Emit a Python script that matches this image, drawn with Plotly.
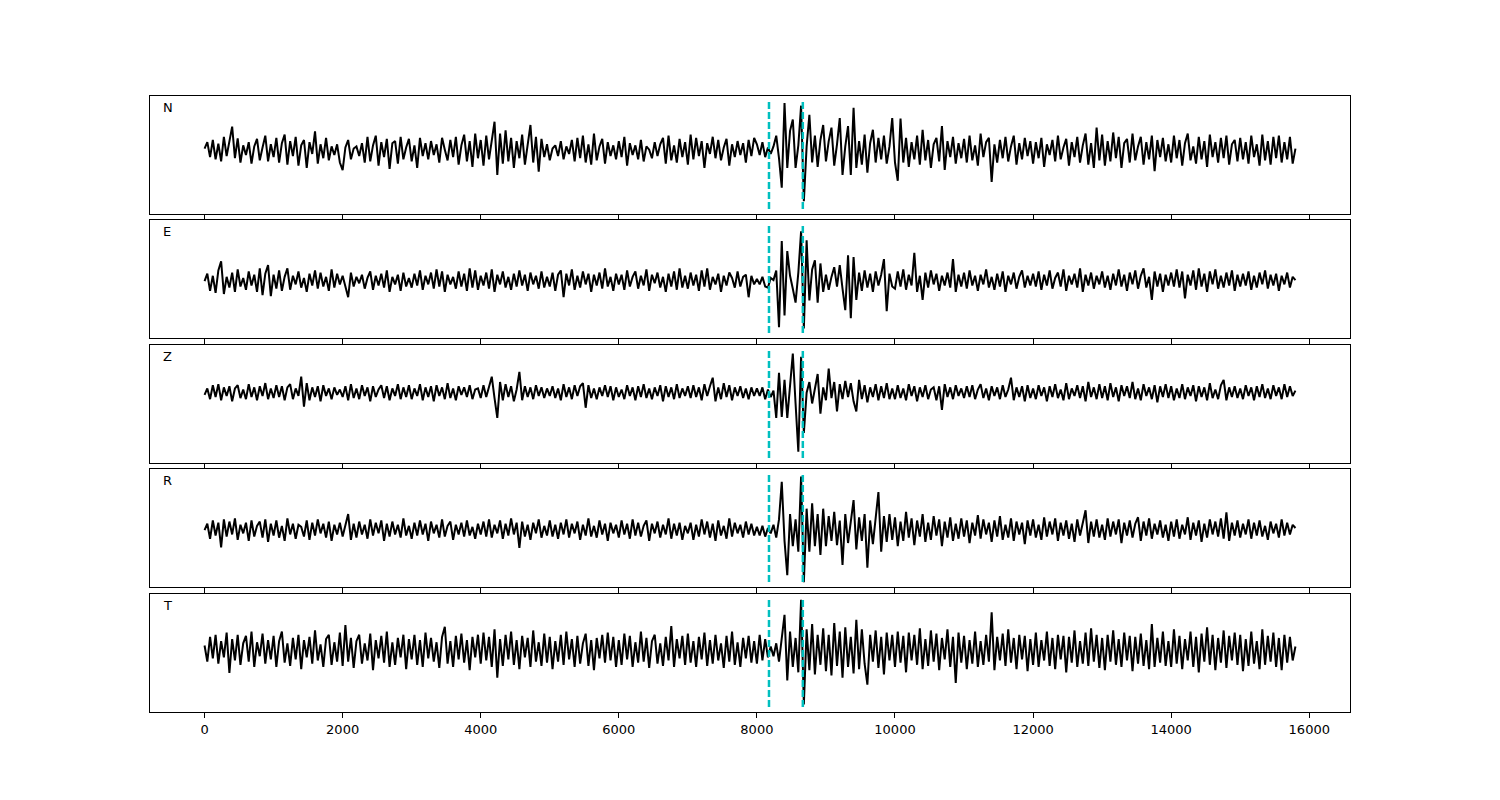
import numpy as np
import plotly.graph_objects as go

# ---- data (trace amplitudes, in % of half panel span; one row = 1000 samples-units) ----
sample_step = 40
components = ["N", "E", "Z", "R", "T"]
pick_times = [8175, 8665]
x_ticks = [0, 2000, 4000, 6000, 8000, 10000, 12000, 14000, 16000]

N_vals = [
    6, 18, -10, 22, -14, 15, -18, 28, -8, 20, 47, -12, 25, -20, 12, -6, 18, -22, 10, 24, -16, 8, 30, -18, 14,
    -10, 26, -20, 16, 32, -24, 20, -8, 28, -26, 12, 22, -30, 18, -4, 38, -22, 14, -12, 26, -16, 10, -6, 14, -20,
    -34, 8, 22, -14, 6, 10, -8, 16, -20, 28, -18, 12, 30, -26, 18, -10, 24, -32, 16, 20, -22, 28, -14, 8, 24,
    -18, 12, -30, 26, -8, 16, -14, 20, -6, 14, -20, 26, 4, -16, 22, -10, 28, -24, 12, 32, -18, 20, -28, 34, -12,
    22, -26, 30, -14, 18, 56, -43, 34, -22, 40, -18, 26, -30, 20, -12, 32, -24, 16, 50, -20, 28, -37, 24, -10, 14,
    -16, 6, 12, -8, 20, -14, 10, -4, 22, -18, 26, -12, 30, -20, 14, -24, 34, -16, 10, 24, -22, 18, -8, 12, -14,
    20, -10, 28, -26, 16, -6, 12, -14, 22, -18, 10, 4, -12, 18, -8, 14, 26, -22, 30, -16, 12, -20, 24, -10, 18,
    -24, 32, -14, 26, -8, 20, -30, 16, -4, 28, -12, 22, -16, 8, 24, -26, 14, -10, 20, -6, 16, -20, 22, -8, 26,
    14, -6, 18, -10, 8, -4, 10, 30, -12, -67, 91, -30, 39, 60, -30, 12, 86, -92, 10, 69, -20, 30, -28, 22, 50,
    -18, 20, 45, -26, 14, 63, -43, 10, 48, -43, 82, -30, 20, -24, 32, -39, 16, 41, -20, 26, -14, 30, -22, 10, 63,
    -20, -54, 62, -20, 26, -28, 18, -14, 30, -24, 41, -16, 22, -30, 14, 26, -18, 48, -34, 20, -10, 28, -22, 16, -12,
    24, -20, 30, -16, 12, -26, 34, -10, 18, 26, -56, 14, -20, 22, -12, 28, -18, 10, 30, -24, 16, -14, 26, -8, 20,
    -22, 18, -12, 26, -28, 14, -6, 22, -18, 30, -14, 8, 24, -26, 18, -10, 28, -20, 12, 34, -24, 16, -30, 45, -16,
    32, -26, 20, -18, 36, -12, 28, -30, 16, 24, -20, 34, -16, 10, 28, -24, 18, -14, 30, -36, 22, -10, 26, -18, 14,
    -20, 30, -12, 22, -26, 16, 34, -16, 10, -22, 28, -14, 20, -28, 32, -10, 18, -20, 26, -12, 30, -24, 14, 22, -18,
    26, -14, 18, -22, 30, -10, 14, -26, 32, -16, 20, -24, 28, -12, 30, -20, 18, -14, 28, -22, 6,
]

E_vals = [
    0, 14, -18, 10, -22, 20, 37, -24, 8, -12, 16, -20, 22, -10, 6, -16, 18, -8, 12, -20, 24, -26, 14, 30, -28,
    12, -14, 20, -18, 8, 24, -16, 10, -6, 18, -12, 6, -20, 14, -8, 20, -14, 16, -10, 8, -18, 22, -12, 14, -6,
    10, -8, -30, 16, -10, 8, -4, 12, -14, 6, 18, -16, 10, -8, 14, -12, 20, -20, 8, -6, 12, -18, 16, -10, 6,
    -12, 14, -8, 20, -16, 10, -6, 16, -14, 22, -10, 18, -20, 12, -6, 8, -14, 18, -10, 14, -18, 24, -12, 20, -16,
    10, -8, 16, -14, 22, -20, 12, -6, 18, -12, 8, -16, 14, -10, 20, -8, 12, -18, 16, -6, 10, -14, 18, -12, 8,
    -10, 16, -18, 12, 20, -30, 14, -8, 22, -16, 10, -12, 18, -6, 14, -20, 12, -8, 16, -14, 24, -10, 8, -18, 14,
    -6, 12, -16, 20, -10, 8, 18, -14, 10, -8, 22, -18, 12, -4, 16, -12, 8, -20, 14, -10, 18, -16, 24, -12, 10,
    -14, 16, -8, 12, -18, 20, -10, 24, -16, 8, -6, 14, -20, 10, -8, 16, 6, -12, 18, -10, 8, 12, -30, 10, -6,
    4, -6, 8, -10, -12, 6, 2, 20, -86, 75, -64, 56, 10, -14, -40, 16, 93, -88, 76, -36, 22, 39, -40, 33, -20,
    12, -16, 8, 26, -10, 30, -14, -54, 48, -69, 45, -35, 16, -18, 20, -12, 14, -20, 18, -8, 12, 41, -56, 14, -10,
    -14, 18, -10, 22, -16, 12, -8, 53, -20, 10, -35, 16, -12, 20, -6, 14, -18, 10, -8, 16, -12, 41, -20, 12, -10,
    16, -14, 20, -8, 10, -18, 12, -6, 22, -12, 8, -16, 14, -10, 18, -20, 10, -6, 16, -14, 8, 20, -12, 10, -8,
    14, -10, 18, -16, 12, -8, 20, -14, 6, 16, -10, 22, -18, 10, -6, 14, -12, 24, -20, 12, -8, 16, -14, 10, -6,
    18, -12, 10, -16, 14, -8, 22, -10, 12, -18, 16, -6, 20, -14, 10, 24, -12, 8, -35, 18, -10, 14, -20, 12, -8,
    16, -10, 22, -12, 18, -32, 12, -8, 20, -16, 24, -10, 14, -20, 18, -6, 22, -14, 10, -12, 16, -8, 20, -18, 12,
    -10, 14, -8, 18, -16, 10, -12, 16, -6, 20, -14, 12, -8, 14, -18, 10, -6, 16, -12, 8, 2,
]

Z_vals = [
    -4, 8, -12, 14, -8, 16, -14, 10, -6, 12, -16, 8, 14, -10, 6, -12, 16, -8, 10, -14, 12, -6, 18, -12, 8,
    -10, 14, -8, 12, -14, 10, 16, -12, 8, -6, 30, -26, 18, -14, 10, -8, 12, -16, 14, -6, 8, -12, 10, -4, 6,
    -8, 12, -14, 16, -10, 8, -12, 14, -6, 10, -16, 12, -8, 6, 14, -10, 12, -14, 8, -6, 16, -12, 10, -8, 14,
    -12, 8, -6, 16, -14, 10, -8, 12, -16, 14, -6, 10, -12, 18, -10, 8, -14, 12, -4, 10, -8, 14, -12, 6, 8,
    -10, 14, -8, 12, 30, -10, -47, 20, -14, 16, -8, 12, -16, 6, 39, -14, 12, -8, 10, -12, 14, -6, 10, -10, 8,
    -6, 12, -10, 8, -14, 16, -8, 10, -12, 14, -6, 12, 18, -28, 14, -10, 8, -12, 10, -6, 14, -8, 12, -14, 10,
    -8, 6, -12, 14, -6, 10, -14, 12, -8, 16, -10, 8, -12, 10, -6, 14, -16, 12, -8, 10, -12, 16, -10, 8, -6,
    12, -10, 14, -8, 10, -14, 16, -6, 12, 28, -16, 10, -12, 18, -8, 14, -14, 10, -6, 12, -10, 8, -12, 10, -6,
    8, -6, 10, -12, 6, -8, 4, -47, 37, -45, 24, -47, 10, 73, -20, -110, 67, -75, 0, 20, -20, 10, 35, -39, 10,
    -14, 45, -10, 20, -35, 16, -12, 22, -8, 18, -16, -35, 24, -12, 14, -18, 10, -8, 16, -14, 12, -10, 18, -12, 8,
    -12, 14, -10, 8, -14, 16, -6, 12, -16, 10, -8, 14, -12, 6, 10, -14, 12, -32, 16, -8, 10, -12, 14, -6, 8,
    -10, 12, -8, 14, -12, 6, 16, -10, 8, -14, 12, -6, 10, -12, 14, -8, 6, 28, -14, 10, -8, 12, -16, 14, -10,
    8, -12, 14, -6, 10, -16, 12, -8, 16, -10, 6, -14, 18, -12, 8, -6, 14, -10, 12, -16, 20, -8, 10, -12, 16,
    -10, 12, -14, 18, -8, 10, -16, 14, -6, 12, -10, 20, -12, 8, -14, 16, -6, 10, -12, 14, -18, 12, -8, 16, -10,
    12, -14, 8, -10, 16, -12, 10, -6, 14, -16, 12, -8, 10, -14, 18, -10, 6, -12, 14, 24, -14, 10, -8, 12, -10,
    8, -12, 14, -6, 10, -14, 12, -8, 16, -10, 8, -12, 14, -6, 10, -12, 16, -8, 12, -6, 4,
]

R_vals = [
    0, 12, -16, 18, -10, 14, -32, 20, -12, 16, -8, 22, -18, 10, -6, 14, -20, 18, -12, 8, 16, -14, 20, -22, 12,
    -10, 18, -14, 8, -20, 22, -8, 12, -16, 10, 6, -12, 18, -18, 14, -10, 20, -6, 12, -14, 16, -20, 10, -8, 14,
    -12, 8, 30, -18, 12, -14, 16, -8, 10, -16, 20, -10, 14, -6, 18, -20, 12, -12, 16, -8, 10, -14, 22, -10, 8,
    -16, 14, -10, 18, -8, 12, -20, 16, -6, 10, -14, 20, -12, 8, 16, -18, 10, -8, 14, -12, 18, -10, 6, -16, 12,
    -8, 16, -12, 20, -14, 10, -6, 18, -16, 12, -10, 22, -8, 14, -33, 16, -12, 10, -18, 14, -6, 20, -14, 8, -10,
    18, -12, 10, -16, 14, -8, 20, -14, 12, -6, 16, -18, 10, -10, 22, -12, 8, -14, 18, -8, 12, -20, 14, -6, 10,
    -14, 18, -8, 12, -16, 20, -10, 14, -12, 8, 18, -20, 12, -6, 16, -14, 10, -8, 22, -16, 12, -10, 14, -18, 8,
    -6, 14, -18, 10, -12, 20, -8, 16, -14, 12, -20, 18, -10, 8, -16, 22, -12, 14, -6, 10, -14, 16, -8, 12, -10,
    6, -10, 8, -12, 4, -6, 10, -14, 20, 90, -20, -84, 30, -30, 20, -40, 100, -97, 40, -40, 50, -30, 30, -46, 40,
    -30, 26, -20, 34, -28, 18, -65, 30, -24, 20, 56, -36, 24, -20, 30, -70, 18, -26, 20, 71, -40, 26, -22, 30, -18,
    24, -30, 16, -20, 34, -14, 22, -28, 18, -12, 30, -22, 14, -18, 26, -10, 20, -30, 16, -14, 24, -20, 12, -16, 22,
    -12, 18, -24, 14, -10, 28, -16, 20, -8, 14, -22, 18, -12, 26, -18, 10, -14, 22, -20, 16, -8, 14, -26, 18, -10,
    20, -14, 10, -18, 24, -12, 16, -8, 22, -20, 14, -10, 18, -16, 12, -22, 20, -10, 14, 37, -24, 16, -12, 20, -14,
    10, -18, 22, -12, 16, -8, 20, -24, 14, -10, 18, -14, 12, 24, -20, 16, -10, 22, -16, 12, -8, 18, -14, 10, -20,
    16, -12, 20, -16, 10, -8, 24, -18, 14, -10, 18, -22, 12, -14, 20, -8, 16, -12, 22, -16, 33, -20, 14, -10, 18,
    -14, 12, -8, 20, -16, 14, -10, 18, -12, 8, -18, 16, -6, 12, -14, 20, -10, 14, -8, 10, 4,
]

T_vals = [
    10, -20, 26, -14, 30, -24, 18, -12, 34, -41, 22, -18, 30, -26, 14, 28, -20, 36, -30, 16, -10, 32, -24, 20, -16,
    28, -30, 18, 36, -22, 14, -28, 24, -16, 30, -34, 20, -12, 26, -24, 38, -18, 12, -30, 22, 30, -26, 16, -20, 34,
    -28, 48, -20, 24, -32, 18, 30, -24, 14, -18, 32, -36, 20, -14, 28, -22, 36, -30, 16, -26, 24, -12, 30, -34, 22,
    -16, 30, -26, 20, -30, 34, -14, 24, -20, 16, -32, 26, 45, -24, 18, -30, 28, -16, 32, -22, 20, -36, 26, -12, 30,
    -24, 34, -18, 26, -30, 40, -50, 22, -28, 30, -16, 36, -26, 20, -34, 28, -12, 24, -30, 38, -20, 16, -28, 32, -22,
    26, -34, 18, -20, 30, -26, 36, -16, 22, -30, 28, -24, 14, 32, -28, 20, -36, 24, -14, 30, -22, 34, -18, 26, -30,
    20, -26, 32, -16, 28, -30, 16, -22, 36, -20, 24, -32, 18, 30, -24, 14, -28, 26, -18, 46, -30, 22, -14, 28, -26,
    32, -22, 18, -30, 26, -16, 34, -28, 20, -24, 30, -18, 14, -32, 28, -20, 36, -26, 16, -30, 24, -14, 28, -22, 18,
    -24, 30, -18, 22, -12, 8, -10, 14, -20, 30, 67, -55, 36, -30, 24, -40, 95, -100, 40, -36, 50, -44, 30, -26, 42,
    -38, 30, -46, 52, -28, 36, -50, 44, -30, 26, -42, 58, -34, 40, -24, -63, 30, -20, 38, -32, 26, -44, 34, -18, 30,
    -30, 36, -22, 28, -40, 34, -18, 30, -26, 42, -34, 22, -28, 38, -20, 32, -36, 24, -16, 40, -30, 26, -60, 34, -22,
    28, -34, 20, -24, 36, -30, 18, -26, 30, -20, 72, -36, 26, -18, 32, -28, 40, -22, 24, -34, 30, -16, 28, -38, 22,
    -26, 34, -30, 20, -18, 36, -28, 24, -34, 30, -16, 28, -40, 26, -22, 38, -30, 18, -24, 34, -28, 42, -20, 30, -32,
    24, -36, 30, -20, 38, -26, 22, -30, 34, -18, 28, -38, 26, -24, 32, -28, 20, -34, 50, -30, 24, -22, 36, -28, 18,
    -30, 40, -24, 28, -34, 22, -18, 36, -30, 26, -40, 32, -20, 44, -26, 30, -36, 24, -22, 38, -32, 28, -18, 34, -26,
    30, -38, 22, -28, 36, -24, 18, -34, 40, -26, 28, -20, 34, -30, 24, -36, 30, -22, 26, -18, 8,
]

traces = [N_vals, E_vals, Z_vals, R_vals, T_vals]

# ---- layout / style ----
x_range = [-790, 16590]
y_ranges = [[-116, 104], [-106, 114], [-131, 89], [-106, 114], [-114, 106]]
domains = [[0.8084, 1.0], [0.6071, 0.7987], [0.4042, 0.5958], [0.2029, 0.3945], [0.0, 0.1916]]
FONT = "DejaVu Sans"

fig = go.Figure()
shapes = []
annotations = []
layout_axes = {}

for k, (name, vals) in enumerate(zip(components, traces)):
    idx = k + 1
    xa = "x" if idx == 1 else f"x{idx}"
    ya = "y" if idx == 1 else f"y{idx}"
    times = np.arange(len(vals)) * sample_step
    fig.add_trace(go.Scatter(
        x=times, y=vals, mode="lines",
        line=dict(color="black", width=2),
        xaxis=xa, yaxis=ya, showlegend=False, hoverinfo="skip",
    ))
    layout_axes["xaxis" if idx == 1 else f"xaxis{idx}"] = dict(
        domain=[0, 1], anchor=ya, range=x_range,
        tickvals=x_ticks, ticktext=[str(t) for t in x_ticks],
        showticklabels=(idx == len(components)),
        ticks="outside", ticklen=5, tickwidth=1, tickcolor="black",
        showline=True, mirror=True, linecolor="black", linewidth=1,
        showgrid=False, zeroline=False,
        tickfont=dict(family=FONT, size=13, color="black"),
    )
    layout_axes["yaxis" if idx == 1 else f"yaxis{idx}"] = dict(
        domain=domains[k], anchor=xa, range=y_ranges[k],
        showticklabels=False, ticks="",
        showline=True, mirror=True, linecolor="black", linewidth=1,
        showgrid=False, zeroline=False,
    )
    for t in pick_times:
        shapes.append(dict(
            type="line", xref=xa, yref=f"{ya} domain",
            x0=t, x1=t, y0=0.042, y1=0.958,
            line=dict(color="#00BFBF", width=2.5, dash="7px,3px"),
        ))
    annotations.append(dict(
        text=name, xref=f"{xa} domain", yref=f"{ya} domain",
        x=0.009, y=0.9, xanchor="left", yanchor="middle", showarrow=False,
        font=dict(family=FONT, size=13, color="black"),
    ))

# page body adds an ~8px offset; margins compensate so the plot area lands where the reference has it
fig.update_layout(
    width=1500, height=800,
    margin=dict(l=142, r=158, t=88, b=96),
    paper_bgcolor="white", plot_bgcolor="white",
    font=dict(family=FONT, size=13, color="black"),
    shapes=shapes, annotations=annotations,
    **layout_axes,
)

fig.write_html("out.html")
